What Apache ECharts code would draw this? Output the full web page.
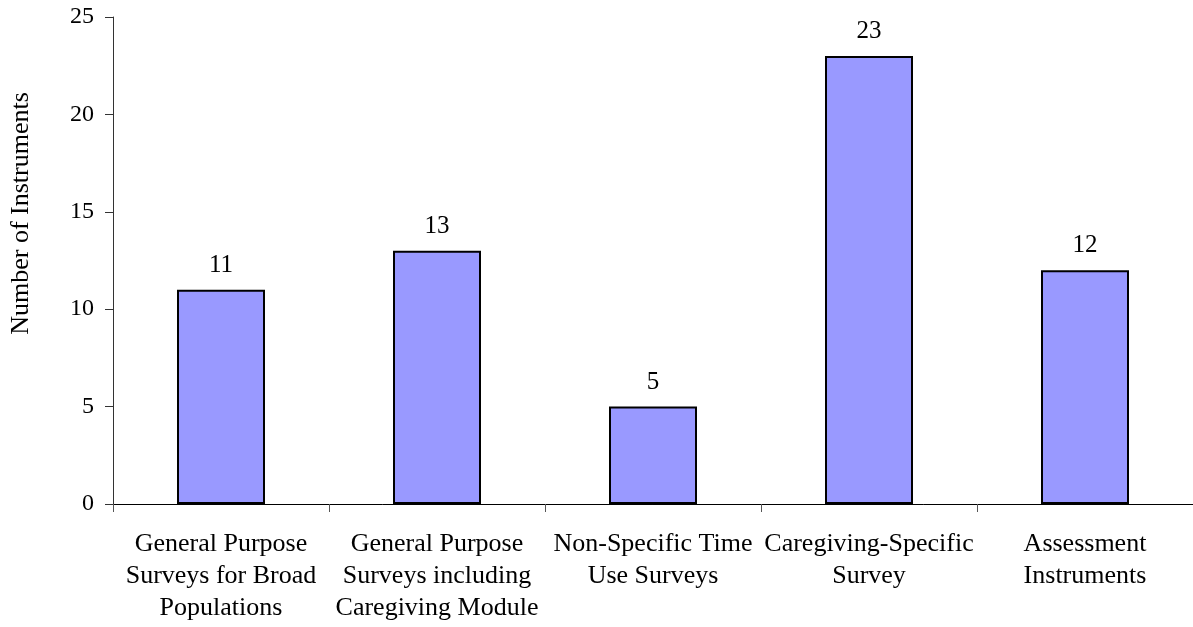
<!DOCTYPE html>
<html>
<head>
<meta charset="utf-8">
<script src="https://cdn.jsdelivr.net/npm/echarts@6/dist/echarts.min.js"></script>
<style>
  html, body { margin: 0; padding: 0; background: #fff; }
  #chart { width: 1193px; height: 627px; }
</style>
</head>
<body>
<div id="chart"></div>
<script>
// Instrument types and how many instruments fall into each
const categories = [
  'General Purpose\nSurveys for Broad\nPopulations',
  'General Purpose\nSurveys including\nCaregiving Module',
  'Non-Specific Time\nUse Surveys',
  'Caregiving-Specific\nSurvey',
  'Assessment\nInstruments'
];
const counts = [11, 13, 5, 23, 12];
const yAxisTitle = 'Number of Instruments';

const font = '"Liberation Serif", "Times New Roman", serif';
const chart = echarts.init(document.getElementById('chart'));

chart.setOption({
  backgroundColor: '#ffffff',
  animation: false,
  grid: { left: 113, top: 17, width: 1086, bottom: 123, containLabel: false },
  xAxis: {
    type: 'category',
    data: categories,
    axisLine: { lineStyle: { color: '#000', width: 1 } },
    axisTick: { show: true, alignWithLabel: false, length: 8, lineStyle: { color: '#555' } },
    axisLabel: {
      interval: 0,
      margin: 24,
      color: '#000',
      fontFamily: font,
      fontSize: 26,
      lineHeight: 32
    }
  },
  yAxis: {
    type: 'value',
    min: 0,
    max: 25,
    interval: 5,
    name: yAxisTitle,
    nameLocation: 'middle',
    nameGap: 79,
    // title sits a little above the middle of the axis
    nameTextStyle: { color: '#000', fontFamily: font, fontSize: 26, padding: [0, 0, 0, 94] },
    axisLine: { show: true, lineStyle: { color: '#333', width: 1 } },
    axisTick: { show: true, length: 8, lineStyle: { color: '#333' } },
    axisLabel: { color: '#000', fontFamily: font, fontSize: 24, margin: 19 },
    splitLine: { show: false }
  },
  series: [{
    type: 'bar',
    data: counts,
    barWidth: 88,
    itemStyle: { color: '#9999ff', borderColor: '#000', borderWidth: 2 },
    label: {
      show: true,
      position: 'top',
      distance: 12,
      color: '#000',
      fontFamily: font,
      fontSize: 25
    }
  }]
});
</script>
</body>
</html>
